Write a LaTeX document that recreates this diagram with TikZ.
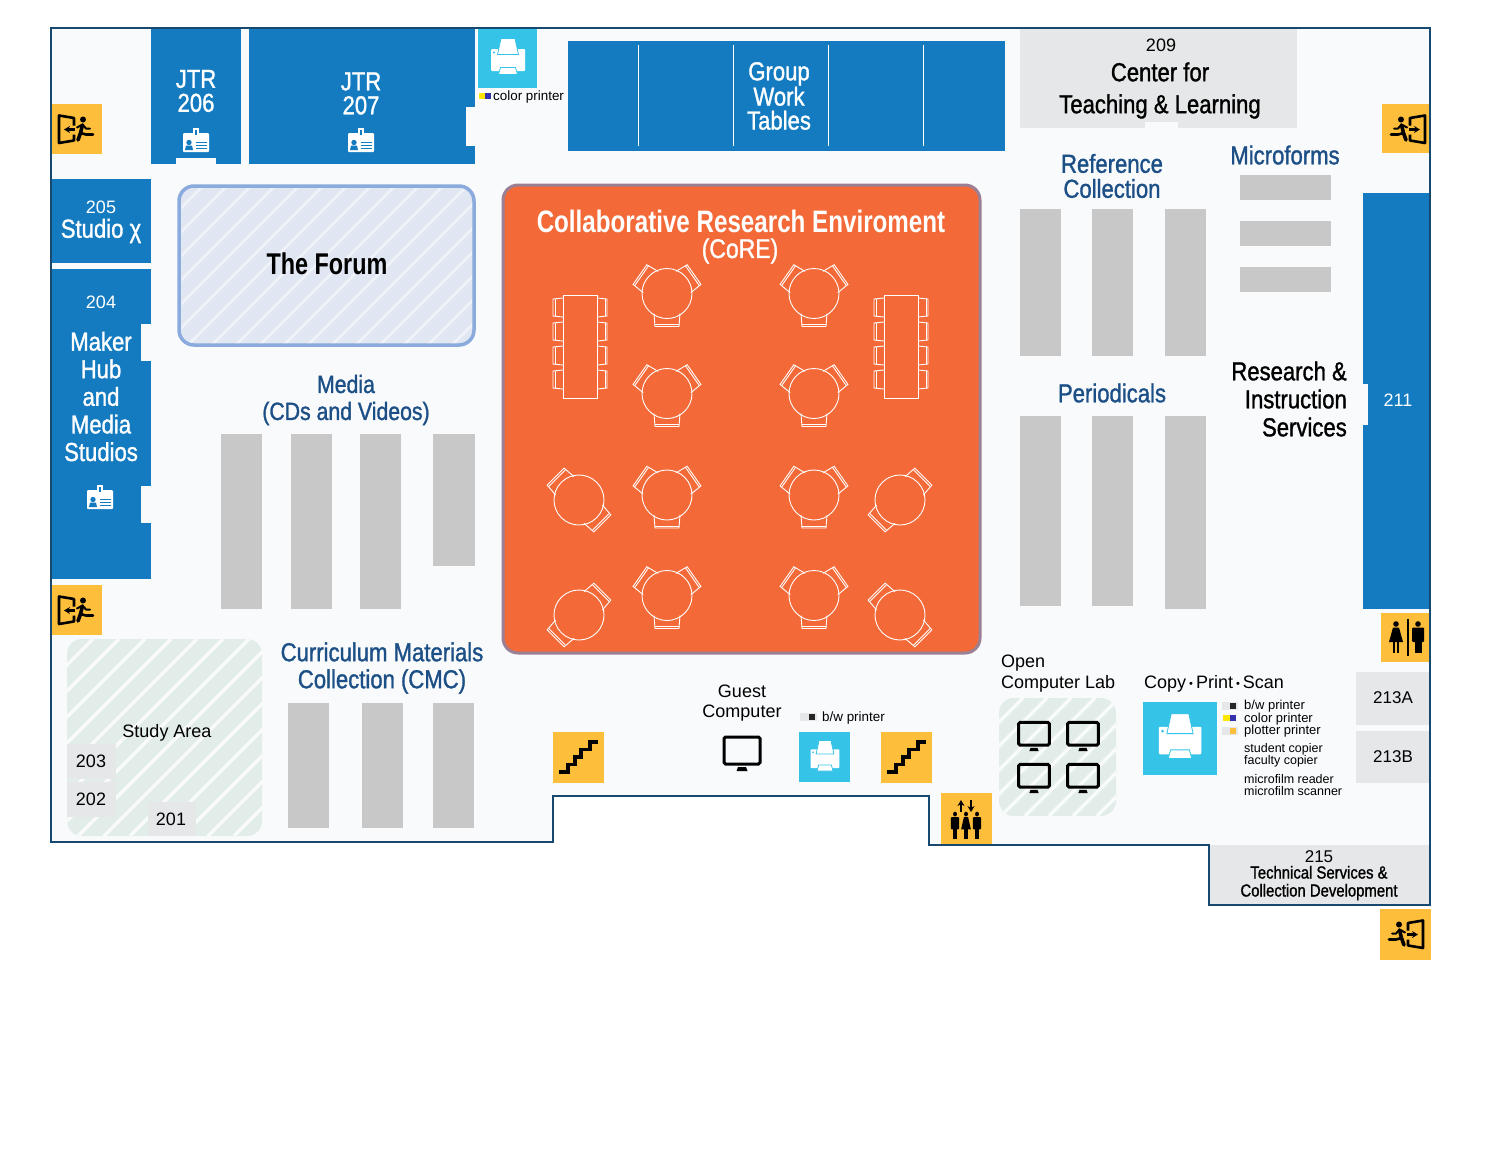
\documentclass[tikz,border=0pt]{standalone}
\usepackage{fontspec}
\setmainfont{Liberation Sans}
\newfontfamily\condfont[FakeStretch=0.85,FakeBold=1.2]{Liberation Sans}
\newfontfamily\condbold[FakeStretch=0.78]{Liberation Sans Bold}
\usetikzlibrary{arrows.meta}

\definecolor{floorc}{HTML}{F9FAFC}
\definecolor{wallc}{HTML}{17486F}
\definecolor{roomblue}{HTML}{147BC1}
\definecolor{labelblue}{HTML}{1C4F86}
\definecolor{shelfc}{HTML}{C8C8C8}
\definecolor{greyroom}{HTML}{E6E7E8}
\definecolor{signc}{HTML}{FDBE3B}
\definecolor{printc}{HTML}{36C3E8}
\definecolor{corec}{HTML}{F36A38}
\definecolor{coreedge}{HTML}{9A7F95}
\definecolor{forumc}{HTML}{E1E6F3}
\definecolor{forumedge}{HTML}{8AABDB}
\definecolor{studyc}{HTML}{E2EDE9}

\newcommand{\cond}[2]{\condfont\fontsize{#1}{#2}\selectfont}
\newcommand{\condb}[2]{\condbold\fontsize{#1}{#2}\selectfont}
\newcommand{\reg}[2]{\fontsize{#1}{#2}\selectfont}
\newcommand{\midbullet}{\,\raisebox{1.5pt}{\fontsize{11}{11}\selectfont\textbullet}\,}

\tikzset{
  seat/.style={draw=white, line width=0.9pt},
  whitelabel/.style={text=white, align=center, inner sep=0pt},
  bluelabel/.style={text=labelblue, align=center, inner sep=0pt, font=\cond{26}{27}},
  blacklabel/.style={text=black, align=center, inner sep=0pt},
  % furniture
  chair/.pic={
    \draw[seat] (-13,20) -- (-12,33) -- (12,33) -- (13,20);
    \draw[seat] (-12,31) -- (12,31);
  },
  roundthree/.pic={
    \foreach \a in {0,125,-125} \pic[transform shape, rotate=\a] at (0,0) {chair};
    \draw[seat] (0,0) circle (25);
  },
  roundtwo/.pic={
    \pic[transform shape] at (0,0) {chair};
    \pic[transform shape, rotate=180] at (0,0) {chair};
    \draw[seat] (0,0) circle (25);
  },
  longtable/.pic={
    \foreach \y in {-40,-16,8,32} {
      \draw[seat] (-17,\y-9) -- (-27,\y-8) -- (-27,\y+9) -- (-17,\y+10);
      \draw[seat] (-25,\y-8) -- (-25,\y+9);
      \draw[seat] (17,\y-9) -- (27,\y-8) -- (27,\y+9) -- (17,\y+10);
      \draw[seat] (25,\y-8) -- (25,\y+9);
    }
    \draw[seat] (-17,-52) rectangle (17,51);
  },
  % icons
  printicon/.pic={
    \fill[white, rounded corners=1pt] (-17,-9) rectangle (17,13);
    \fill[printc] (-14,-5.5) circle (1.2);
    \filldraw[fill=white, draw=printc, line width=0.8pt] (-10.5,-3.5) -- (-7,-19.5) -- (7,-19.5) -- (10.5,-3.5) -- cycle;
    \filldraw[fill=white, draw=printc, line width=0.8pt] (-9.5,16.5) -- (-7.5,9.5) -- (7.5,9.5) -- (9.5,16.5) -- cycle;
  },
  monitor/.pic={
    \draw[black, line width=3pt, rounded corners=1.5pt] (-18,-15) rectangle (18,12);
    \fill[black] (-4,15) -- (4,15) -- (5.5,19) -- (-5.5,19) -- cycle;
  },
  stairs/.pic={
    \draw[black, line width=3.4pt] (-19,15) -- (-10,15) -- (-10,7.5) -- (-3,7.5) -- (-3,0) -- (3,0)
      -- (3,-7.5) -- (12,-7.5) -- (12,-15) -- (20,-15);
  },
  exitdoor/.pic={
    \draw[black, line width=2.6pt, line join=round] (-3,-3.5) -- (-3,-11) -- (-18,-13.5) -- (-18,14) -- (-3,11.5) -- (-3,5.5);
    \draw[black, line width=2.2pt, -{Stealth[length=6pt,width=7pt]}] (-2,0.5) -- (-13,0.5);
    \fill[black] (6,-9.5) circle (3);
    \draw[black, line width=3.6pt, line cap=round, line join=round] (5.5,-4) -- (3.5,4) -- (1,11);
    \draw[black, line width=2.6pt, line cap=round, line join=round] (3.5,4) -- (9,5.5) -- (16,5.5);
    \draw[black, line width=2pt, line cap=round, line join=round] (5.5,-4.5) -- (0,-1.5);
    \draw[black, line width=2pt, line cap=round, line join=round] (5.5,-4.5) -- (9,-0.5) -- (13,-0.5);
  },
  mansign/.pic={
    \fill[black] (0,-14) circle (2.8);
    \fill[black, rounded corners=1pt] (-6,-10.5) rectangle (6,4);
    \fill[black] (-3.5,-2) rectangle (-0.4,15);
    \fill[black] (0.4,-2) rectangle (3.5,15);
  },
  womansign/.pic={
    \fill[black] (0,-14) circle (2.8);
    \fill[black] (-3,-10.5) -- (3,-10.5) -- (7,4) -- (-7,4) -- cycle;
    \fill[black] (-3,3) rectangle (-0.6,15);
    \fill[black] (0.6,3) rectangle (3,15);
  },
  badge/.pic={
    \fill[white, rounded corners=1pt] (-13,-8) rectangle (13,11);
    \fill[white] (-3,-13) rectangle (3,-6);
    \fill[roomblue] (-1.2,-11) rectangle (1.2,-6);
    \fill[roomblue] (-7,1.5) circle (2.7);
    \fill[roomblue] (-11,9) -- (-10,4.5) -- (-4,4.5) -- (-3,9) -- cycle;
    \foreach \y in {1,4,7} \fill[roomblue] (0,\y) rectangle (11,\y+1);
  }
}

\begin{document}
\begin{tikzpicture}[x=1pt, y=-1pt]
  \useasboundingbox (0,0) rectangle (1500,1149);
  \fill[white] (0,0) rectangle (1500,1149);

  % Floor
  \fill[floorc] (51,28) -- (1430,28) -- (1430,905) -- (1209,905) -- (1209,845) -- (929,845)
    -- (929,796) -- (553,796) -- (553,842) -- (51,842) -- cycle;

  % Blue rooms
  \fill[roomblue] (151,29) rectangle (241,164);
  \fill[floorc] (176,158) rectangle (216,164);
  \fill[roomblue] (249,29) rectangle (475,164);
  \fill[floorc] (466,107) rectangle (475,146);
  \fill[roomblue] (52,179) rectangle (151,263);
  \fill[roomblue] (52,269) rectangle (151,579);
  \fill[floorc] (141,324) rectangle (151,361);
  \fill[floorc] (141,486) rectangle (151,523);
  \fill[roomblue] (1363,193) rectangle (1430,609);
  \fill[floorc] (1363,384) rectangle (1368,425);
  \fill[roomblue] (568,41) rectangle (1005,151);
  \foreach \x in {638,733,828,923} \draw[white, line width=0.9pt] (\x,45) -- (\x,146);

  \node[whitelabel, font=\cond{26}{24}] (jtr206) at (196,91) {JTR\\206};
  \node[whitelabel, font=\cond{26}{24}] (jtr207) at (361,93.5) {JTR\\207};
  \node[whitelabel, font=\cond{26}{24}] (tables) at (779,96) {Group\\Work\\Tables};
  \node[whitelabel, font=\reg{18}{18}] (room205) at (101,207) {205};
  \node[whitelabel, font=\cond{26}{26}] (studio) at (101,231) {Studio χ};
  \node[whitelabel, font=\reg{18}{18}] (room204) at (101,302) {204};
  \node[whitelabel, font=\cond{26}{27.6}] (maker) at (101,396.5) {Maker\\Hub\\and\\Media\\Studios};
  \node[whitelabel, font=\reg{18}{18}] (room211) at (1398,400) {211};
  \pic at (196,141) {badge};
  \pic at (361,141) {badge};
  \pic at (100,498) {badge};

  % Grey rooms
  \fill[greyroom] (1020,29) rectangle (1297,128);
  \fill[floorc] (1145,122) rectangle (1178,128);
  \fill[greyroom] (1356,672) rectangle (1429,725);
  \fill[greyroom] (1356,731) rectangle (1429,783);
  \fill[greyroom] (1210,845) rectangle (1429,904);
  \node[blacklabel, font=\reg{18}{18}] (room209) at (1161,45) {209};
  \node[blacklabel, font=\cond{26}{32}] (teaching) at (1160,90.5) {Center for\\Teaching \& Learning};
  \node[blacklabel, font=\reg{17}{18}] (room213a) at (1393,698) {213A};
  \node[blacklabel, font=\reg{17}{18}] (room213b) at (1393,757) {213B};
  \node[blacklabel, font=\reg{17}{18}] (room215) at (1319,857) {215};
  \node[blacklabel, font=\cond{17.5}{18}] (tech) at (1319,883) {Technical Services \&\\Collection Development};

  % The Forum
  \fill[forumc, rounded corners=15pt] (179,186) rectangle (474,345);
  \begin{scope}
    \clip[rounded corners=15pt] (179,186) rectangle (474,345);
    \foreach \k in {20,44,...,480} \draw[white, opacity=0.5, line width=2.5pt] (\k,345) -- ++(159,-159);
  \end{scope}
  \draw[forumedge, line width=3.5pt, rounded corners=15pt] (179,186) rectangle (474,345);
  \node[blacklabel, font=\condb{30}{30}] (forum) at (327,264) {The Forum};

  % Collaborative area
  \fill[corec, rounded corners=15pt] (503,185) rectangle (980,653);
  \draw[coreedge, line width=3pt, rounded corners=15pt] (503,185) rectangle (980,653);
  \node[whitelabel, font=\condb{31}{30}] (core) at (741,221) {Collaborative Research Enviroment};
  \node[whitelabel, font=\cond{27}{28}] (coretag) at (740,251) {(CoRE)};
  \pic at (580,347) {longtable};
  \pic at (901,347) {longtable};
  \foreach \x in {667,814}
    \foreach \y in {293.5,393.5,495,595.5}
      \pic at (\x,\y) {roundthree};
  \pic[rotate=45] at (579,500) {roundtwo};
  \pic[rotate=135] at (900,500) {roundtwo};
  \pic[rotate=135] at (579,615) {roundtwo};
  \pic[rotate=45] at (900,615) {roundtwo};

  % Shelves
  \foreach \x in {221,291,360} \fill[shelfc] (\x,434) rectangle ++(41,175);
  \fill[shelfc] (433,434) rectangle (475,566);
  \foreach \x in {288,362,433} \fill[shelfc] (\x,703) rectangle ++(41,125);
  \foreach \x in {1020,1092,1165} \fill[shelfc] (\x,209) rectangle ++(41,147);
  \foreach \x in {1020,1092} \fill[shelfc] (\x,416) rectangle ++(41,190);
  \fill[shelfc] (1165,416) rectangle ++(41,193);
  \foreach \y in {175,221,267} \fill[shelfc] (1240,\y) rectangle ++(91,25);

  \node[bluelabel, font=\cond{25}{27}] (media) at (346,400) {Media\\(CDs and Videos)};
  \node[bluelabel] (cmc) at (382,668) {Curriculum Materials\\Collection (CMC)};
  \node[bluelabel, font=\cond{26}{25}] (reference) at (1112,176) {Reference\\Collection};
  \node[bluelabel] (microforms) at (1285,155) {Microforms};
  \node[bluelabel] (periodicals) at (1112,393) {Periodicals};
  \node[blacklabel, align=right, anchor=east, font=\cond{26}{28}] (services) at (1347,399) {Research \&\\Instruction\\Services};

  % Study area
  \fill[studyc, rounded corners=15pt] (67,639) rectangle (262,836);
  \begin{scope}
    \clip[rounded corners=15pt] (67,639) rectangle (262,836);
    \foreach \k in {-130,-104,...,270} \draw[white, opacity=0.8, line width=3.5pt] (\k,836) -- ++(197,-197);
  \end{scope}
  \fill[greyroom] (67,744) rectangle (116,779);
  \fill[greyroom] (67,782) rectangle (116,817);
  \fill[greyroom] (148,802) rectangle (196,836);
  \node[blacklabel, font=\reg{18}{18}] (study) at (167,733) {Study Area};
  \node[blacklabel, font=\reg{18}{18}] (room203) at (91,761) {203};
  \node[blacklabel, font=\reg{18}{18}] (room202) at (91,799) {202};
  \node[blacklabel, font=\reg{18}{18}] (room201) at (171,819) {201};

  % Computers
  \node[blacklabel, font=\reg{18}{20}] (guest) at (742,703) {Guest\\Computer};
  \pic at (742,752) {monitor};
  \node[blacklabel, align=left, anchor=west, font=\reg{18}{21}] (lab) at (1001,673.5) {Open\\Computer Lab};
  \fill[studyc, rounded corners=15pt] (999,698) rectangle (1116,816);
  \begin{scope}
    \clip[rounded corners=15pt] (999,698) rectangle (1116,816);
    \foreach \k in {881,905,...,1120} \draw[white, opacity=0.8, line width=3.5pt] (\k,816) -- ++(118,-118);
  \end{scope}
  \foreach \x in {1034,1083}
    \foreach \y in {735,777}
      \pic[scale=0.85] at (\x,\y) {monitor};

  % Printers
  \fill[printc] (478,29) rectangle (537,88);
  \pic at (508,58) {printicon};
  \fill[printc] (799,732) rectangle (850,782);
  \pic[scale=0.85] at (825,757) {printicon};
  \fill[printc] (1143,702) rectangle (1217,775);
  \pic[scale=1.25] at (1180,738) {printicon};

  \begin{scope}[shift={(478,96)}]
    \fill[white] (0,-5) rectangle (14,5);
    \fill[yellow!90!orange] (1,-3) rectangle (7,3);
    \fill[blue!60!black!80] (7,-3) rectangle (13,3);
  \end{scope}
  \begin{scope}[shift={(800,717)}]
    \fill[greyroom] (0,-4) rectangle (17,4);
    \fill[black!85] (9,-3) rectangle (15,3);
  \end{scope}
  \begin{scope}[shift={(1222,706)}]
    \fill[greyroom] (0,-4) rectangle (16,4);
    \fill[black!85] (8,-3) rectangle (14,3);
  \end{scope}
  \begin{scope}[shift={(1222,718)}]
    \fill[yellow!90!orange] (1,-3) rectangle (8,3);
    \fill[blue!60!black!80] (8,-3) rectangle (14,3);
  \end{scope}
  \begin{scope}[shift={(1222,731)}]
    \fill[greyroom] (0,-4) rectangle (16,4);
    \fill[signc] (8,-3) rectangle (14,3);
  \end{scope}

  \node[blacklabel, anchor=west, font=\reg{13.4}{13}] (colorprint) at (493,97) {color printer};
  \node[blacklabel, anchor=west, font=\reg{13.4}{13}] (bwprint) at (822,718) {b/w printer};
  \node[blacklabel, anchor=west, font=\reg{18}{18}] (copy) at (1144,684) {Copy\midbullet Print\midbullet Scan};
  \node[blacklabel, align=left, anchor=west, font=\reg{13}{12.4}] (printers) at (1244,719) {b/w printer\\color printer\\plotter printer};
  \node[blacklabel, align=left, anchor=west, font=\reg{12.5}{12}] (copiers) at (1244,755) {student copier\\faculty copier};
  \node[blacklabel, align=left, anchor=west, font=\reg{12.5}{12}] (film) at (1244,785) {microfilm reader\\microfilm scanner};

  % Signs
  \foreach \x/\y/\s in {52/104/50, 52/585/50, 1382/104/49, 1380/909/51, 1381/613/49, 553/732/51, 881/732/51, 941/793/51}
    \fill[signc] (\x,\y) rectangle ++(\s,\s);
  \pic at (77,129) {exitdoor};
  \pic at (77,610) {exitdoor};
  \pic[xscale=-1] at (1407,129) {exitdoor};
  \pic[xscale=-1] at (1405,934) {exitdoor};
  \pic at (578,757) {stairs};
  \pic at (906,757) {stairs};

  % Restrooms and elevator
  \pic at (1396,638) {womansign};
  \pic at (1418,638) {mansign};
  \fill[black] (1406.5,619) rectangle (1409,656);
  \pic[xscale=0.7, yscale=0.85] at (955,826) {mansign};
  \pic[xscale=0.7, yscale=0.85] at (966,826) {womansign};
  \pic[xscale=0.7, yscale=0.85] at (977,826) {mansign};
  \draw[black, line width=2pt, -{Stealth[length=6pt,width=7pt]}] (961,812) -- (961,800);
  \draw[black, line width=2pt, -{Stealth[length=6pt,width=7pt]}] (971,800) -- (971,812);

  % Outer wall
  \draw[wallc, line width=2pt] (51,28) -- (1430,28) -- (1430,905) -- (1209,905) -- (1209,845) -- (929,845)
    -- (929,796) -- (553,796) -- (553,842) -- (51,842) -- cycle;
\end{tikzpicture}
\end{document}
